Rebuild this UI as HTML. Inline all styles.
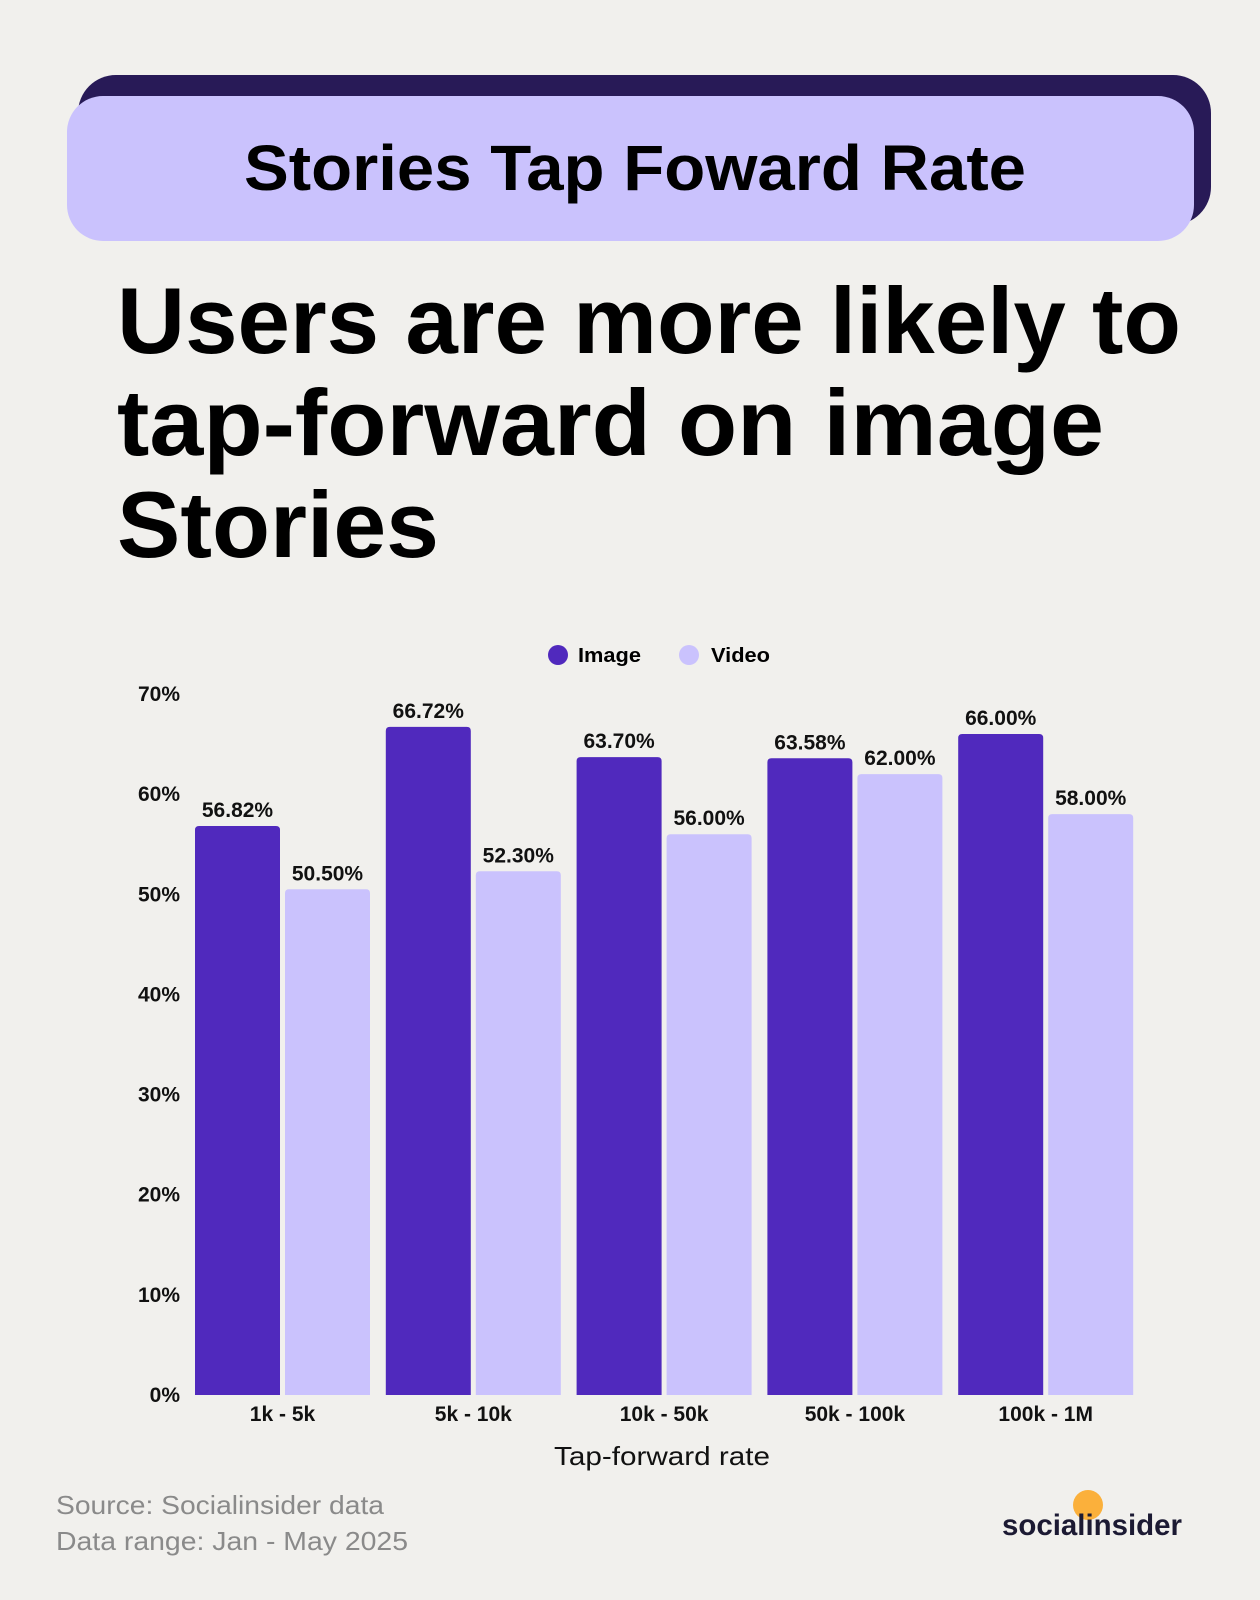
<!DOCTYPE html>
<html><head><meta charset="utf-8"><style>
html,body{margin:0;padding:0;background:#f1f0ed;}
svg{display:block;font-family:"Liberation Sans",sans-serif;}
</style></head><body>
<svg id="c" width="1260" height="1600" viewBox="0 0 1260 1600">
<rect x="0" y="0" width="1260" height="1600" fill="#f1f0ed"/>
<rect x="78" y="75" width="1133" height="150" rx="38" fill="#281a57"/>
<rect x="67" y="96" width="1127" height="145" rx="36" fill="#cac2fd"/>
<text x="635" y="190" text-anchor="middle" font-size="64" font-weight="bold" fill="#000" textLength="782" lengthAdjust="spacingAndGlyphs">Stories Tap Foward Rate</text>
<g font-size="94" font-weight="bold" fill="#000">
<text x="117" y="353" textLength="1064" lengthAdjust="spacingAndGlyphs">Users are more likely to</text>
<text x="117" y="455" textLength="987" lengthAdjust="spacingAndGlyphs">tap-forward on image</text>
<text x="117" y="557" textLength="322" lengthAdjust="spacingAndGlyphs">Stories</text>
</g>
<g font-size="20" font-weight="bold">
<circle cx="558" cy="655" r="10" fill="#5029bd"/>
<text x="578" y="662" textLength="63" lengthAdjust="spacingAndGlyphs">Image</text>
<circle cx="689" cy="655" r="10" fill="#cac2fd"/>
<text x="711" y="662" textLength="59" lengthAdjust="spacingAndGlyphs">Video</text>
</g>
<g id="yaxis"></g>
<g id="bars"></g>
<g id="xaxis"></g>
<text x="662" y="1465" text-anchor="middle" font-size="26" fill="#111" textLength="216" lengthAdjust="spacingAndGlyphs">Tap-forward rate</text>
<text x="56" y="1514" font-size="26" fill="#8a8a8a" textLength="328" lengthAdjust="spacingAndGlyphs">Source: Socialinsider data</text>
<text x="56" y="1550" font-size="26" fill="#8a8a8a" textLength="352" lengthAdjust="spacingAndGlyphs">Data range: Jan - May 2025</text>
<g>
<circle cx="1088" cy="1505" r="15" fill="#fbb03b"/>
<text x="1002" y="1535" font-size="30" font-weight="bold" fill="#1c1a33" textLength="180" lengthAdjust="spacingAndGlyphs">socialinsider</text>
</g>
</svg>
<script>
const categories = ["1k - 5k","5k - 10k","10k - 50k","50k - 100k","100k - 1M"];
const imageValues = [56.82, 66.72, 63.70, 63.58, 66.00];
const videoValues = [50.50, 52.30, 56.00, 62.00, 58.00];
const yTicks = [0,10,20,30,40,50,60,70];
const NS = "http://www.w3.org/2000/svg";
const y0 = 1395, yTop = 694, yMax = 70;
const y = v => y0 - (v / yMax) * (y0 - yTop);
const groupStart = 195, pitch = 190.8, barW = 85, gap = 5;
const x = i => groupStart + i * pitch;
function mk(tag, attrs, parent){const e=document.createElementNS(NS,tag);for(const k in attrs)e.setAttribute(k,attrs[k]);parent.appendChild(e);return e;}
const ya = document.getElementById('yaxis');
yTicks.forEach(t=>{
  const e = mk('text',{x:180,y:y(t)+7,'text-anchor':'end','font-size':21,'font-weight':'bold',fill:'#111'},ya);
  
  
  e.textContent = t + '%';
});
const bars = document.getElementById('bars');
function bar(v, bx, color, name){
  const r = 4;
  const p = mk('path',{d:`M${bx},${y0} V${y(v)+r} Q${bx},${y(v)} ${bx+r},${y(v)} H${bx+barW-r} Q${bx+barW},${y(v)} ${bx+barW},${y(v)+r} V${y0} Z`,fill:color},bars);
  
  
  const t = mk('text',{x:bx+barW/2,y:y(v)-9,'text-anchor':'middle','font-size':21,'font-weight':'bold',fill:'#111'},bars);
  
  
  t.textContent = v.toFixed(2) + '%';
}
const xa = document.getElementById('xaxis');
categories.forEach((c,i)=>{
  bar(imageValues[i], x(i), '#5029bd', 'bar-image-' + (i+1));
  bar(videoValues[i], x(i)+barW+gap, '#cac2fd', 'bar-video-' + (i+1));
  const t = mk('text',{x:x(i)+barW+gap/2,y:1421,'text-anchor':'middle','font-size':21,'font-weight':'bold',fill:'#111'},xa);
  
  
  t.textContent = c;
});
</script>
</body></html>
